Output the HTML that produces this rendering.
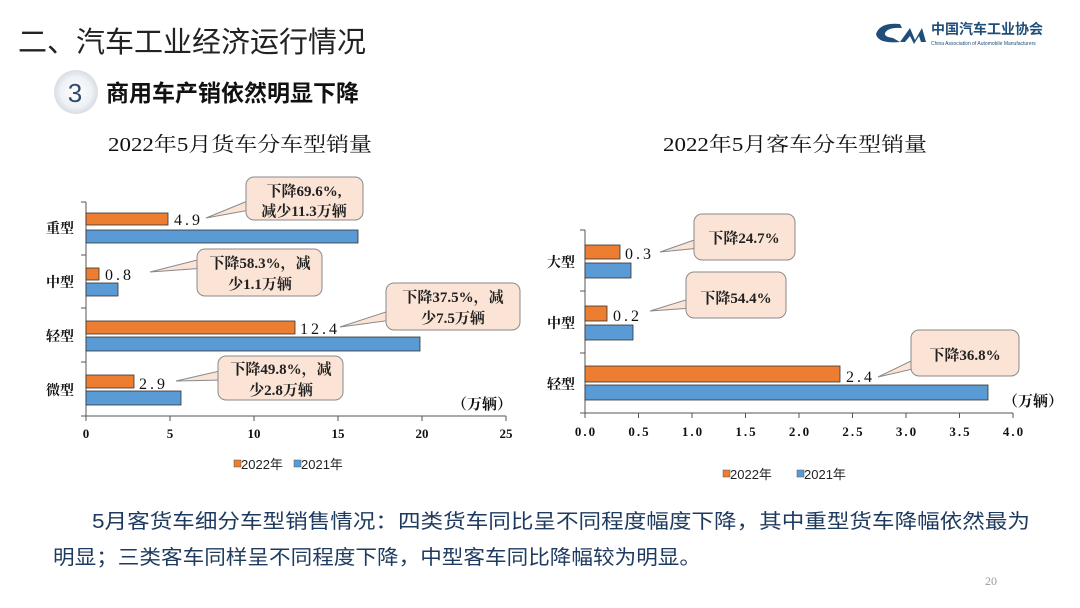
<!DOCTYPE html>
<html><head><meta charset="utf-8"><style>
body{margin:0;width:1080px;height:608px;overflow:hidden;background:#fff}
svg{display:block}
.s{font-family:"Liberation Serif","Noto Serif CJK SC",serif}
.h{font-family:"Liberation Sans","Noto Sans CJK SC",sans-serif}
</style></head><body>
<svg width="1080" height="608" viewBox="0 0 1080 608">
<defs><radialGradient id="g" cx="0.5" cy="0.5" r="0.5"><stop offset="0" stop-color="#fff"/><stop offset="0.7" stop-color="#eef1f5"/><stop offset="1" stop-color="#d8dde4"/></radialGradient></defs>
<text x="18" y="52" class="h" font-size="29" fill="#222">二、汽车工业经济运行情况</text>
<circle cx="76" cy="92" r="22" fill="url(#g)"/>
<text x="75" y="102" class="h" font-size="26" fill="#2f4a6e" text-anchor="middle">3</text>
<text x="106" y="101" class="h" font-size="23" font-weight="bold" fill="#111">商用车产销依然明显下降</text>
<path d="M900 24 Q880 22 876 34 Q878 44 900 42 L893 38 Q884 37 885 33 Q888 27 902 28Z" fill="#1f4e79"/>
<path d="M900 42 L910 28 L915 40 L922 28 L926 42 L921 42 L919 36 L914 44 L910 36 L905 42Z" fill="#1f4e79"/>
<text x="931" y="34" class="h" font-size="14" font-weight="bold" fill="#1f4e79">中国汽车工业协会</text>
<text x="931" y="45" class="h" font-size="5" fill="#1f4e79">China Association of Automobile Manufacturers</text>

<text x="240" y="151" class="s" font-size="20" fill="#111" text-anchor="middle" textLength="264" lengthAdjust="spacingAndGlyphs">2022年5月货车分车型销量</text>
<g stroke="#555" stroke-width="1" fill="none">
<path d="M86 202 V416 H506"/>
<path d="M81 202H86M81 255H86M81 308H86M81 362H86M81 416H86"/>
<path d="M86 416v5M170 416v5M254 416v5M338 416v5M422 416v5M506 416v5"/>
</g>
<g stroke="#333" stroke-width="0.8">
<rect x="86" y="213" width="82" height="12" fill="#ed7d31"/>
<rect x="86" y="230" width="272" height="13" fill="#5b9bd5"/>
<rect x="86" y="268" width="13" height="12" fill="#ed7d31"/>
<rect x="86" y="283" width="32" height="13" fill="#5b9bd5"/>
<rect x="86" y="321" width="209" height="13" fill="#ed7d31"/>
<rect x="86" y="337" width="334" height="14" fill="#5b9bd5"/>
<rect x="86" y="375" width="48" height="13" fill="#ed7d31"/>
<rect x="86" y="391" width="95" height="14" fill="#5b9bd5"/>
</g>
<g class="s" font-size="14" font-weight="bold" fill="#111" text-anchor="end">
<text x="74" y="233">重型</text><text x="74" y="287">中型</text><text x="74" y="341">轻型</text><text x="74" y="395">微型</text>
</g>
<g class="s" font-size="16" fill="#111" letter-spacing="3">
<text x="174" y="225">4.9</text><text x="105" y="280">0.8</text><text x="300" y="334">12.4</text><text x="139" y="389">2.9</text>
</g>
<g class="s" font-size="13" font-weight="bold" fill="#111" text-anchor="middle">
<text x="86" y="438">0</text><text x="170" y="438">5</text><text x="254" y="438">10</text><text x="338" y="438">15</text><text x="422" y="438">20</text><text x="506" y="438">25</text>
</g>
<text x="452" y="409" class="s" font-size="15" font-weight="bold" fill="#111">（万辆）</text>
<g stroke="#8a8a8a" stroke-width="1" fill="#fbe4d5">
<polygon points="206,218 250,200 250,210"/><rect x="246" y="177" width="117" height="43" rx="8"/>
<polygon points="150,272 205,258 205,268"/><rect x="197" y="249" width="125" height="47" rx="8"/>
<polygon points="340,327 392,310 392,320"/><rect x="386" y="283" width="134" height="47" rx="8"/>
<polygon points="176,381 224,370 224,380"/><rect x="218" y="356" width="125" height="44" rx="8"/>
</g>
<g class="s" font-size="15" font-weight="bold" fill="#222" text-anchor="middle">
<text x="304" y="196">下降69.6%,</text><text x="304" y="216">减少11.3万辆</text>
<text x="260" y="268">下降58.3%，减</text><text x="260" y="289">少1.1万辆</text>
<text x="453" y="302">下降37.5%，减</text><text x="453" y="323">少7.5万辆</text>
<text x="281" y="374">下降49.8%，减</text><text x="281" y="395">少2.8万辆</text>
</g>
<g class="h" font-size="13" fill="#222">
<rect x="234" y="460" width="7" height="7" fill="#ed7d31" stroke="#555" stroke-width="0.5"/><text x="241" y="469">2022年</text>
<rect x="294" y="460" width="7" height="7" fill="#5b9bd5" stroke="#555" stroke-width="0.5"/><text x="301" y="469">2021年</text>
</g>

<text x="795" y="151" class="s" font-size="20" fill="#111" text-anchor="middle" textLength="264" lengthAdjust="spacingAndGlyphs">2022年5月客车分车型销量</text>
<g stroke="#555" stroke-width="1" fill="none">
<path d="M585 230 V413 H1013"/>
<path d="M580 230H585M580 291H585M580 353H585M580 413H585"/>
<path d="M585 413v5M638.5 413v5M692 413v5M745.5 413v5M799 413v5M852.5 413v5M906 413v5M959.5 413v5M1013 413v5"/>
</g>
<g stroke="#333" stroke-width="0.8">
<rect x="585" y="245" width="35" height="14" fill="#ed7d31"/>
<rect x="585" y="263" width="46" height="15" fill="#5b9bd5"/>
<rect x="585" y="306" width="22" height="15" fill="#ed7d31"/>
<rect x="585" y="325" width="48" height="15" fill="#5b9bd5"/>
<rect x="585" y="366" width="255" height="16" fill="#ed7d31"/>
<rect x="585" y="385" width="403" height="15" fill="#5b9bd5"/>
</g>
<g class="s" font-size="14" font-weight="bold" fill="#111" text-anchor="end">
<text x="575" y="267">大型</text><text x="575" y="328">中型</text><text x="575" y="389">轻型</text>
</g>
<g class="s" font-size="16" fill="#111" letter-spacing="3">
<text x="625" y="259">0.3</text><text x="613" y="321">0.2</text><text x="846" y="382">2.4</text>
</g>
<g class="s" font-size="13" font-weight="bold" fill="#111" text-anchor="middle" letter-spacing="2">
<text x="586" y="436">0.0</text><text x="639.5" y="436">0.5</text><text x="693" y="436">1.0</text><text x="746.5" y="436">1.5</text><text x="800" y="436">2.0</text><text x="853.5" y="436">2.5</text><text x="907" y="436">3.0</text><text x="960.5" y="436">3.5</text><text x="1014" y="436">4.0</text>
</g>
<text x="1003" y="406" class="s" font-size="15" font-weight="bold" fill="#111">（万辆）</text>
<g stroke="#8a8a8a" stroke-width="1" fill="#fbe4d5">
<polygon points="660,252 700,238 700,248"/><rect x="694" y="214" width="101" height="46" rx="8"/>
<polygon points="650,311 692,298 692,308"/><rect x="686" y="272" width="100" height="46" rx="8"/>
<polygon points="878,377 917,358 917,368"/><rect x="911" y="330" width="108" height="46" rx="8"/>
</g>
<g class="s" font-size="15" font-weight="bold" fill="#222" text-anchor="middle">
<text x="744" y="243">下降24.7%</text><text x="736" y="303">下降54.4%</text><text x="965" y="360">下降36.8%</text>
</g>
<g class="h" font-size="13" fill="#222">
<rect x="723" y="470" width="7" height="7" fill="#ed7d31" stroke="#555" stroke-width="0.5"/><text x="730" y="479">2022年</text>
<rect x="797" y="470" width="7" height="7" fill="#5b9bd5" stroke="#555" stroke-width="0.5"/><text x="804" y="479">2021年</text>
</g>

<text x="92" y="528" class="h" font-size="20" fill="#1f3a5f" textLength="938" lengthAdjust="spacingAndGlyphs">5月客货车细分车型销售情况：四类货车同比呈不同程度幅度下降，其中重型货车降幅依然最为</text>
<text x="53" y="564" class="h" font-size="20" fill="#1f3a5f" textLength="648" lengthAdjust="spacingAndGlyphs">明显；三类客车同样呈不同程度下降，中型客车同比降幅较为明显。</text>
<text x="985" y="585" class="s" font-size="12" fill="#999">20</text>
</svg>
</body></html>
